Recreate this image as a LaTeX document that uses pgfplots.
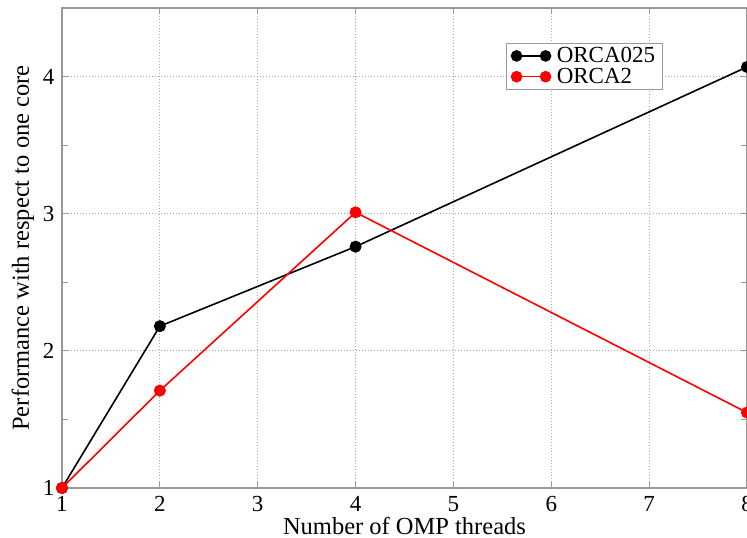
\documentclass[border=0pt]{standalone}
\usepackage{pgfplots}
\pgfplotsset{compat=1.18}
\usepackage{fontspec}
\setmainfont{Liberation Serif}
\pgfplotstableread{
x y
1 1.00
2 2.18
4 2.76
8 4.07
}\orcaA
\pgfplotstableread{
x y
1 1.00
2 1.71
4 3.01
8 1.55
}\orcaB
\begin{document}
\begin{tikzpicture}[x=1pt,y=1pt]
\useasboundingbox (-62,-50) rectangle (685,488);
\begin{axis}[
  at={(0,0)}, anchor=south west,
  scale only axis, width=685pt, height=480pt,
  xmin=1, xmax=8, ymin=1, ymax=4.5,
  xtick={1,...,8}, ytick={1,2,3,4},
  minor ytick={1.5,2.5,3.5},
  grid=major,
  major grid style={gray!70, dash pattern=on 1pt off 2pt, line width=0.8pt},
  axis line style={gray!80, line width=1.3pt},
  tick style={gray!80, line width=1pt},
  major tick length=6pt, minor tick length=6pt,
  tick align=inside,
  xtick pos=both, ytick pos=both,
  /pgf/number format/assume math mode=true,
  tick label style={font=\fontsize{23}{23}\selectfont},
  label style={font=\fontsize{24.5}{26}\selectfont},
  xlabel={Number of OMP threads},
  ylabel={Performance with respect to one core},
  xlabel style={yshift=2pt},
  ylabel style={yshift=2pt},
  xticklabel style={yshift=-5pt},
  yticklabel style={xshift=-4pt},
  legend style={at={(0.648,0.927)}, anchor=north west, draw=gray!80, line width=1pt,
    font=\fontsize{23}{24}\selectfont, inner xsep=5pt, inner ysep=2pt, row sep=0pt, column sep=4pt},
  legend cell align=left,
  legend image code/.code={\draw[#1,mark repeat=1,line width=1.2pt] plot coordinates {(0pt,0pt) (29pt,0pt)};},
]
\addplot[black, line width=1.6pt, mark=*, mark size=5.2pt] table {\orcaA};
\addlegendentry{ORCA025}
\addplot[red, line width=1.6pt, mark=*, mark size=5.2pt] table {\orcaB};
\addlegendentry{ORCA2}
\end{axis}
\end{tikzpicture}
\end{document}
